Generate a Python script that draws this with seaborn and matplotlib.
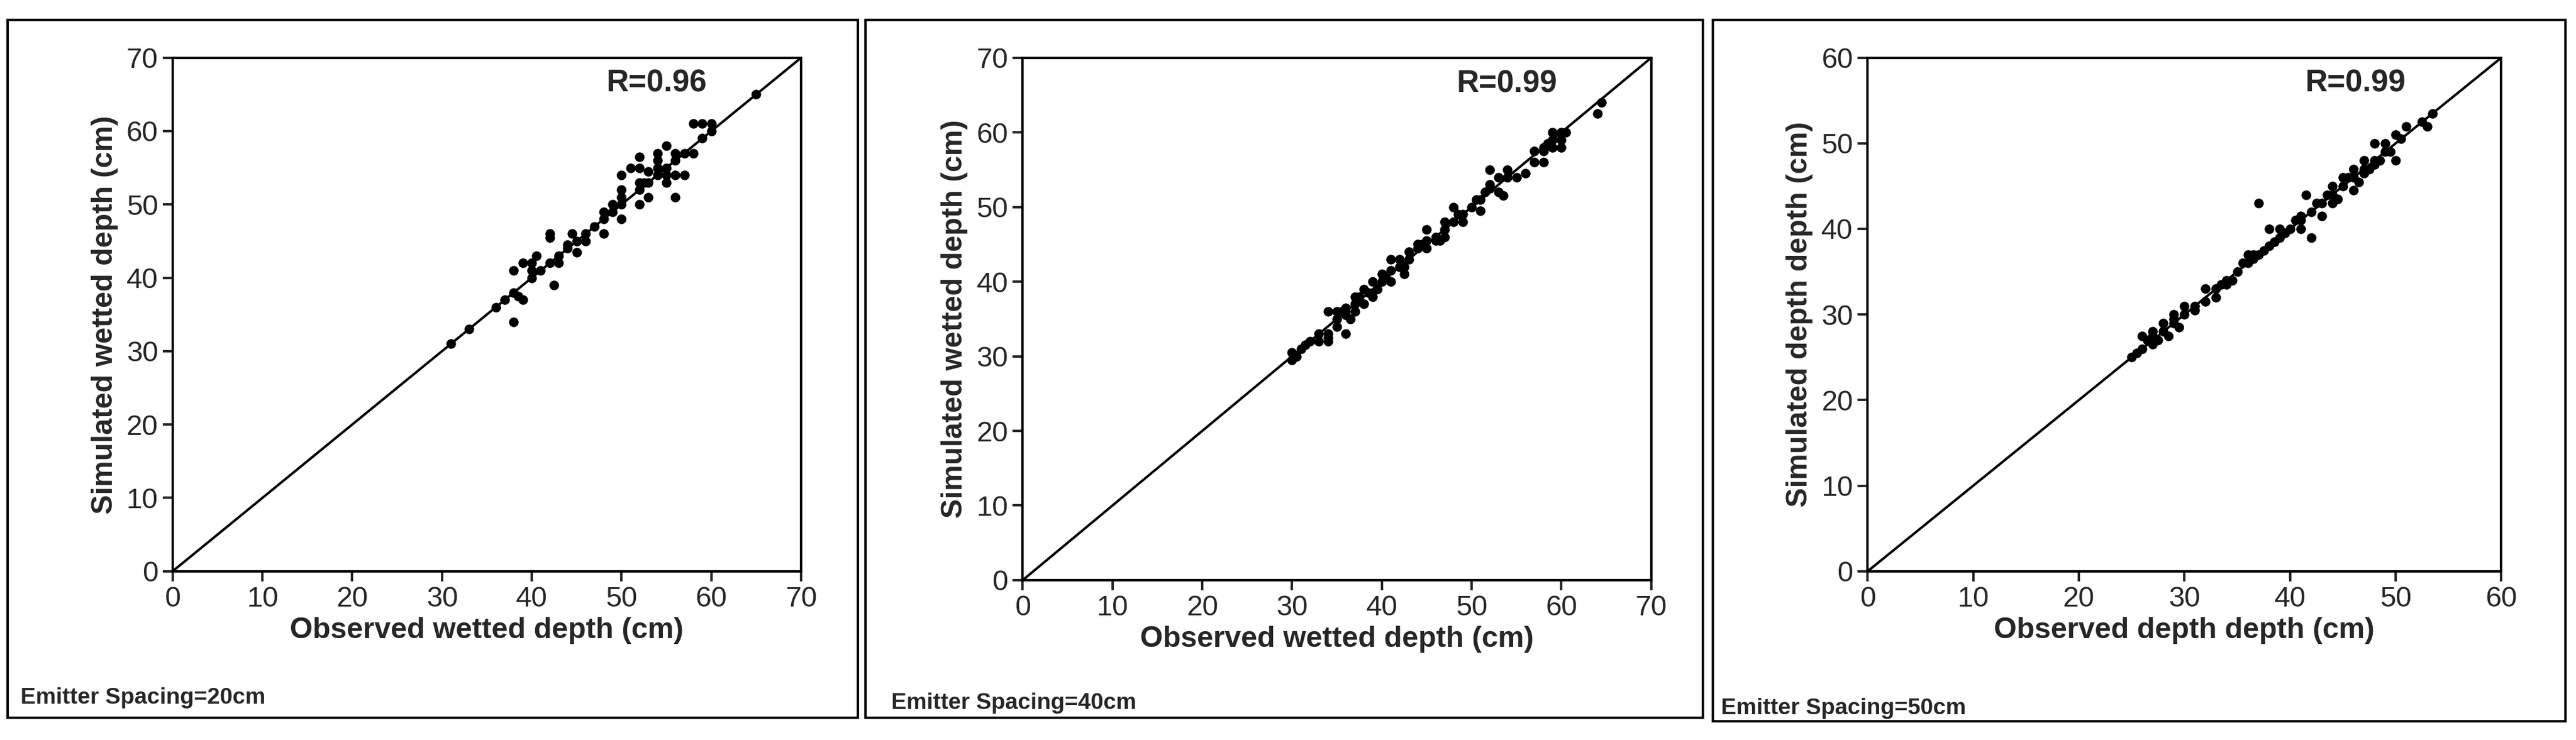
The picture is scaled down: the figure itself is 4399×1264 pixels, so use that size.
import matplotlib
matplotlib.use("Agg")
import matplotlib.pyplot as plt
import seaborn as sns
import pandas as pd
from matplotlib.patches import Rectangle

sns.set_style("white")
plt.rcParams['font.family'] = ['Liberation Sans', 'DejaVu Sans']

obs20 = [31,33,36,37,38,38,38,38.5,39,39,40,40,40.5,40,41,42,42,42,42.5,43,43,44,44.5,45,45,46,47,48,48,49,49,50,50,50,50,50,51,52,52,52,52,52,52.5,53,53,54,54,54,54,55,55,55,55,56,56,56,56,57,57,58,58,59,59,60,60,65,44,46,48,53]
sim20 = [31,33,36,37,38,34,41,37.5,42,37,40,41,43,42,41,45.5,46,42,39,42,43,44,46,43.5,45,46,47,46,49,49,50,48,50,51,52,54,55,52,50,53,56.5,55,53,53,51,54,55,56,57,58,55,53,54,56,57,54,51,54,57,57,61,61,59,60,61,65,44.5,45,48,54.5]

obs40 = [30,30,30.5,31,31.5,32,33,33,34,34,34,34,35,35,35,35.5,36,36,36,36.5,37,37,37,37.5,38,38,38.5,39,39,39.5,40,40,40.5,41,41,42,42,42.5,42.5,43,43,44,44,44.5,45,45,46,46,46.5,47,47,47,48,48,48.5,49,49,50,50.5,51,51,51.5,52,52,52,53,53,53.5,54,54,55,56,57,57,58,58,58,58.5,59,59,59,60,60,60,60.5,64,64.5,36,41,45]
sim40 = [29.5,30.5,30,31,31.5,32,32,33,32,33,32.5,36,34,35,36,36,33,35.5,36,35,37,36,38,38,37,39,38.5,40,38,39,41,40,40.5,43,40,43,42,41,42,44,43,44.5,45,45,47,45.5,46,45.5,45.5,47,48,46,48,50,49,48,49,50,51,51,49.5,52,53,55,52.5,52,54,51.5,54,55,54,54.5,56,57.5,56,58,57.5,58.5,60,59,58,60,58,59,60,62.5,64,36.5,41.5,44.5]

obs50 = [25,25.5,26,26,26.5,27,27,27.5,28,28,28.5,29,29,29.5,30,30,31,32,32,33,33,33.5,34,34.5,35,35.5,36,36,36.5,37,37,37.5,38,38,38.5,39,39,40,40.5,41,41,41.5,42,42,42.5,43,43,43.5,44,44,44.5,45,45,45.5,46,46,46,46.5,47,47,47.5,48,48,48.5,49,49,49.5,50,50,50.5,51,52.5,53,53.5,27,29,31,34,36.5,39.5,41,44,47,48]
sim50 = [25,25.5,26,27.5,27,26.5,28,27,28,29,27.5,30,29,28.5,31,30,31,33,31.5,33,32,33.5,34,34,35,36,36,37,36.5,43,37,37.5,38,40,38.5,40,39,40,41,41,40,44,39,42,43,43,41.5,44,44,45,43.5,45,46,46,46,47,44.5,45.5,47,48,47,48,50,48,49,50,49,48,51,50.5,52,52.5,52,53.5,27.5,29.5,30.5,33.5,37,39.5,41.5,43,46.5,47.5]

panels = [
    (obs20, sim20, 70, "R=0.96", "Observed wetted depth (cm)", "Simulated wetted depth (cm)", "Emitter Spacing=20cm"),
    (obs40, sim40, 70, "R=0.99", "Observed wetted depth (cm)", "Simulated wetted depth (cm)", "Emitter Spacing=40cm"),
    (obs50, sim50, 60, "R=0.99", "Observed depth depth (cm)", "Simulated depth depth (cm)", "Emitter Spacing=50cm"),
]
axes_pos = [(0.067, 0.228, 0.244, 0.694), (0.397, 0.216, 0.244, 0.706), (0.725, 0.228, 0.246, 0.694)]
frames = [(0.003, 0.030, 0.330, 0.943), (0.336, 0.030, 0.325, 0.943), (0.665, 0.025, 0.331, 0.948)]
emit_pos = [(0.008, 0.057), (0.346, 0.050), (0.668, 0.043)]

fig = plt.figure(figsize=(43.99, 12.64), dpi=100)
for (o, s, lim, rtxt, xl, yl, et), pos, fr, ep in zip(panels, axes_pos, frames, emit_pos):
    ax = fig.add_axes(pos)
    df = pd.DataFrame({"obs": o, "sim": s})
    sns.scatterplot(data=df, x="obs", y="sim", ax=ax, color="black", s=140, edgecolor="black", linewidth=0, zorder=3)
    sns.lineplot(x=[0, lim], y=[0, lim], ax=ax, color="black", linewidth=3)
    ax.set_xlim(0, lim); ax.set_ylim(0, lim)
    ax.set_xticks(range(0, lim + 1, 10)); ax.set_yticks(range(0, lim + 1, 10))
    ax.tick_params(labelsize=35, direction="out", length=12, width=3, bottom=True, left=True, pad=6)
    for sp in ax.spines.values():
        sp.set_linewidth(3); sp.set_color("black")
    ax.set_xlabel(xl, fontsize=36, fontweight="bold", labelpad=6)
    ax.set_ylabel(yl, fontsize=36, fontweight="bold", labelpad=10)
    ax.text(0.77, 0.95, rtxt, transform=ax.transAxes, fontsize=38, fontweight="bold", ha="center", va="center")
    fig.text(ep[0], ep[1], et, fontsize=28, fontweight="bold", ha="left", va="center")
    fig.patches.append(Rectangle((fr[0], fr[1]), fr[2], fr[3], transform=fig.transFigure,
                                 fill=False, edgecolor="black", linewidth=3))
fig.savefig("out.png", dpi=100, facecolor="white")
